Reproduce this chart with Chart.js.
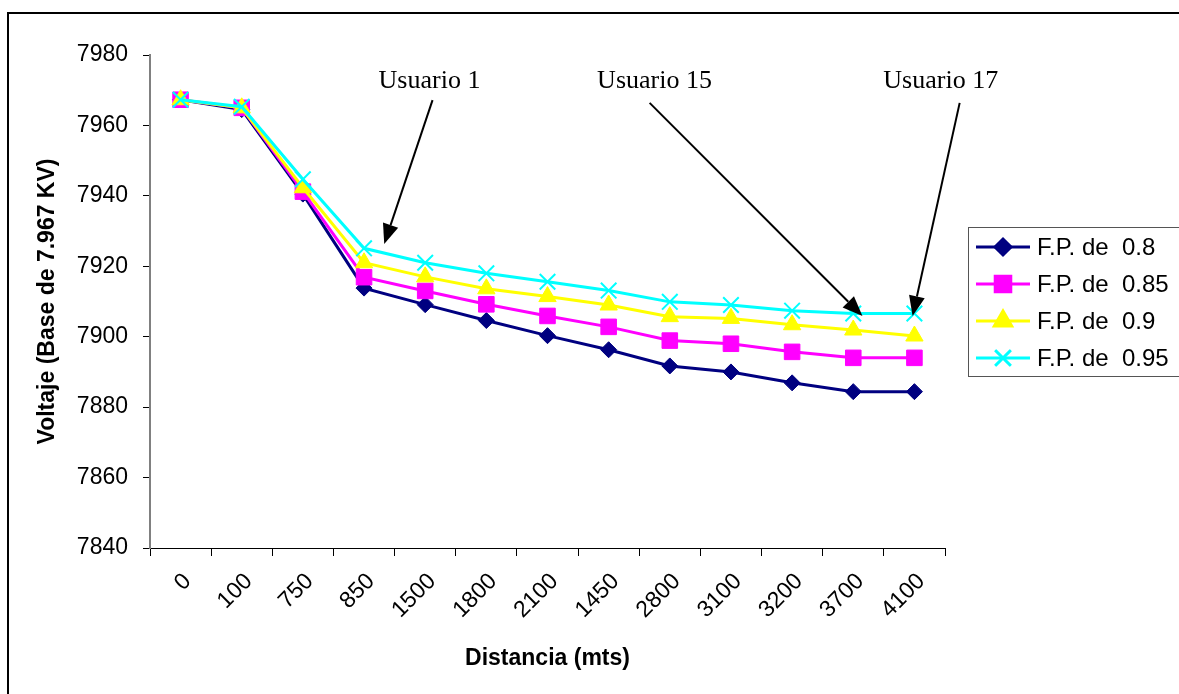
<!DOCTYPE html>
<html>
<head>
<meta charset="utf-8">
<script src="https://cdn.jsdelivr.net/npm/chart.js@4.4.1/dist/chart.umd.min.js"></script>
<style>
  html, body { margin: 0; padding: 0; background: #fff; }
  #wrap { position: relative; width: 1179px; height: 694px; }
</style>
</head>
<body>
<div id="wrap"><canvas id="myChart" width="1179" height="694"></canvas></div>
<script>
// distancias (mts), tal como aparecen en el eje
const distancias = ['0', '100', '750', '850', '1500', '1800', '2100', '1450', '2800', '3100', '3200', '3700', '4100'];

const fp080 = [7967.3, 7964.5, 7940.5, 7913.8, 7909.1, 7904.6, 7900.3, 7896.3, 7891.7, 7890.0, 7886.9, 7884.4, 7884.4];
const fp085 = [7967.3, 7965.0, 7941.2, 7916.9, 7913.0, 7909.2, 7905.9, 7902.8, 7898.9, 7898.0, 7895.7, 7894.0, 7894.0];
const fp090 = [7967.3, 7965.0, 7942.3, 7921.0, 7917.0, 7913.6, 7911.4, 7909.0, 7905.7, 7905.2, 7903.4, 7901.9, 7900.2];
const fp095 = [7967.3, 7965.3, 7944.7, 7925.1, 7921.0, 7918.0, 7915.6, 7913.1, 7909.9, 7909.0, 7907.4, 7906.6, 7906.6];

// notas con flecha: texto en (tx, ty), flecha de (x0, y0) a (x1, y1), en unidades de los ejes
const notas = [
  {texto: 'Usuario 1',  tx: 4.07,  ty: 7972.6, x0: 4.12,  y0: 7967.2, x1: 3.33,  y1: 7926.3},
  {texto: 'Usuario 15', tx: 7.75,  ty: 7972.6, x0: 7.67,  y0: 7966.4, x1: 11.15, y1: 7905.9},
  {texto: 'Usuario 17', tx: 12.43, ty: 7972.6, x0: 12.74, y0: 7966.4, x1: 11.97, y1: 7905.9}
];

const fuente = "Arial, 'Liberation Sans', sans-serif";

const marco = {
  id: 'marco',
  beforeDraw(chart) {
    const c = chart.ctx;
    c.save();
    c.fillStyle = '#fff';
    c.fillRect(0, 0, chart.width, chart.height);
    c.strokeStyle = '#000';
    c.lineWidth = 2;
    c.strokeRect(8, 13, 1400, 1000);
    c.restore();
  }
};

const flechas = {
  id: 'flechas',
  afterDatasetsDraw(chart) {
    const c = chart.ctx;
    const xs = chart.scales.x, ys = chart.scales.y;
    c.save();
    c.fillStyle = '#000';
    c.strokeStyle = '#000';
    c.font = "26px 'Liberation Serif', 'Times New Roman', serif";
    c.textAlign = 'center';
    c.textBaseline = 'middle';
    notas.forEach(n => {
      c.fillText(n.texto, xs.getPixelForValue(n.tx), ys.getPixelForValue(n.ty));
      const ax = xs.getPixelForValue(n.x0), ay = ys.getPixelForValue(n.y0);
      const bx = xs.getPixelForValue(n.x1), by = ys.getPixelForValue(n.y1);
      const ang = Math.atan2(by - ay, bx - ax);
      const largo = 20, ancho = 8;
      const cx = bx - largo * Math.cos(ang), cy = by - largo * Math.sin(ang);
      c.lineWidth = 2;
      c.beginPath();
      c.moveTo(ax, ay);
      c.lineTo(cx, cy);
      c.stroke();
      c.beginPath();
      c.moveTo(bx, by);
      c.lineTo(cx + ancho * Math.sin(ang), cy - ancho * Math.cos(ang));
      c.lineTo(cx - ancho * Math.sin(ang), cy + ancho * Math.cos(ang));
      c.closePath();
      c.fill();
    });
    c.restore();
  }
};

const leyenda = {
  id: 'leyenda',
  afterDraw(chart) {
    const c = chart.ctx;
    const x = 968, y = 227, h = 149;
    c.save();
    c.strokeStyle = '#555';
    c.lineWidth = 1;
    c.strokeRect(x + 0.5, y + 0.5, 400, h);
    c.font = '24px ' + fuente;
    c.textAlign = 'left';
    c.textBaseline = 'middle';
    chart.data.datasets.forEach((ds, i) => {
      const yy = y + 20 + i * 37;
      c.strokeStyle = ds.borderColor;
      c.lineWidth = 3;
      c.beginPath();
      c.moveTo(x + 8, yy);
      c.lineTo(x + 62, yy);
      c.stroke();
      Chart.helpers.drawPoint(c, {
        pointStyle: ds.pointStyle,
        radius: ds.pointRadius,
        borderWidth: ds.pointBorderWidth,
        rotation: 0
      }, x + 35, yy);
      c.fillStyle = ds.borderColor;
      c.strokeStyle = ds.borderColor;
      c.lineWidth = ds.pointBorderWidth;
      c.fill();
      c.stroke();
      c.fillStyle = '#000';
      c.fillText(ds.label, x + 69, yy + 1);
    });
    c.restore();
  }
};

function serie(label, data, color, estilo, radio, borde, orden) {
  return {
    label: label,
    data: data,
    borderColor: color,
    backgroundColor: color,
    borderWidth: 3,
    pointStyle: estilo,
    pointRadius: radio,
    pointBorderWidth: borde,
    pointBackgroundColor: color,
    pointBorderColor: color,
    tension: 0,
    order: orden
  };
}

const ctx = document.getElementById('myChart');
new Chart(ctx, {
  type: 'line',
  data: {
    labels: distancias,
    datasets: [
      serie('F.P. de  0.8',  fp080, '#000080', 'rectRot', 8, 1, 3),
      serie('F.P. de  0.85', fp085, '#FF00FF', 'rect', 11, 1, 2),
      serie('F.P. de  0.9',  fp090, '#FFFF00', 'triangle', 10, 1, 1),
      serie('F.P. de  0.95', fp095, '#00FFFF', 'crossRot', 11, 2, 0)
    ]
  },
  options: {
    responsive: false,
    animation: false,
    layout: {padding: {top: 55, right: 234, left: 0, bottom: 0}},
    plugins: {
      legend: {display: false},
      tooltip: {enabled: false}
    },
    scales: {
      x: {
        offset: true,
        grid: {offset: true, drawOnChartArea: false, drawTicks: true, tickLength: 8, color: '#000'},
        border: {color: '#000', width: 1},
        ticks: {
          autoSkip: false, minRotation: 45, maxRotation: 45, padding: 12, labelOffset: 7,
          color: '#000', font: {family: fuente, size: 23}
        },
        title: {
          display: true, text: 'Distancia (mts)', color: '#000',
          font: {family: fuente, size: 23, weight: 'bold'},
          padding: {top: 0, bottom: 22}
        },
        afterFit(scale) { scale.height = 146; }
      },
      y: {
        min: 7840, max: 7980,
        grid: {drawOnChartArea: false, drawTicks: true, tickLength: 7, color: '#000'},
        border: {color: '#808080', width: 2},
        ticks: {
          stepSize: 20, padding: 15, color: '#000',
          font: {family: fuente, size: 23},
          callback: v => String(v)
        },
        title: {
          display: true, text: 'Voltaje (Base de 7.967 KV)', color: '#000',
          font: {family: fuente, size: 23, weight: 'bold'},
          padding: {top: 34, bottom: 0}
        },
        afterFit(scale) { scale.width = 150; }
      }
    }
  },
  plugins: [marco, flechas, leyenda]
});
</script>
</body>
</html>
